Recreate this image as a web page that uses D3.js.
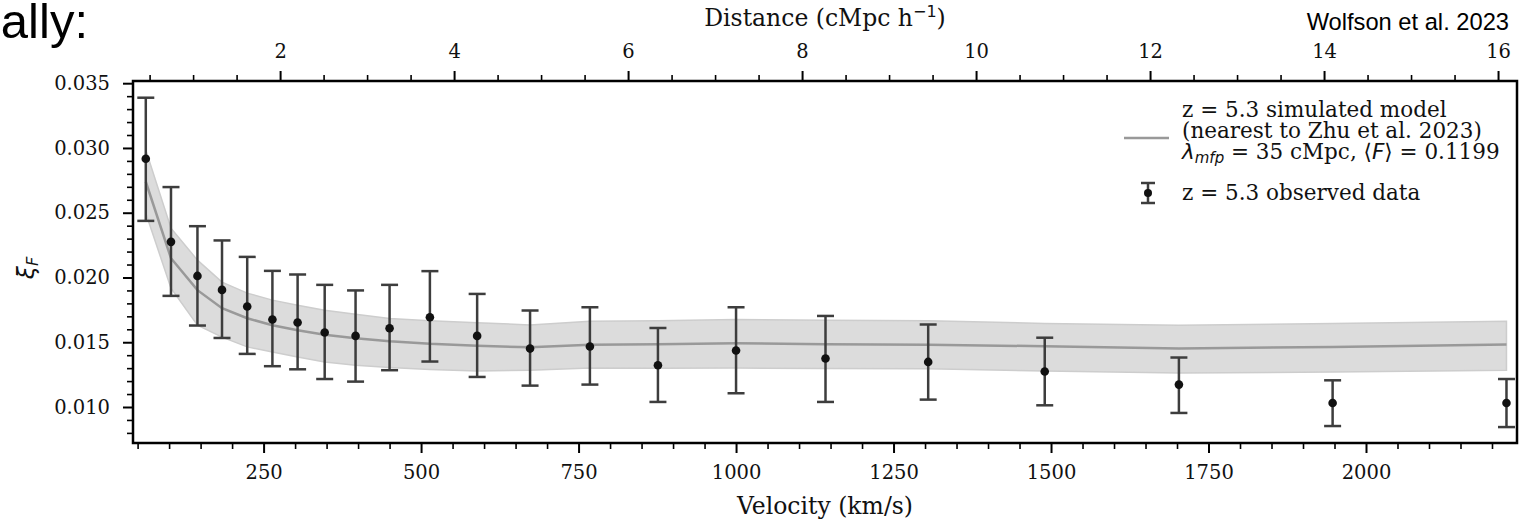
<!DOCTYPE html>
<html>
<head>
<meta charset="utf-8">
<script src="https://cdn.jsdelivr.net/npm/d3@7"></script>
<style>
  body { margin: 0; background: #fff; }
  svg { display: block; }
  .tick text { font-family: "DejaVu Serif", serif; }
</style>
</head>
<body>
<svg id="chart" width="1519" height="522"></svg>
<script>
// observed data (z = 5.3)
var velocity = [63, 103, 145, 184, 224, 264, 304, 347, 396, 450, 514, 589, 673, 768, 876, 1000, 1142, 1305, 1490, 1703, 1947, 2223];
var xiObs    = [0.02917, 0.02275, 0.02012, 0.01904, 0.01776, 0.01675, 0.01652, 0.01575, 0.01549, 0.01608, 0.01693, 0.01549,
                0.01451, 0.01467, 0.01322, 0.01436, 0.01374, 0.01348, 0.01274, 0.01173, 0.01031, 0.01031];
var errHi    = [0.03388, 0.02698, 0.02396, 0.02286, 0.02159, 0.02051, 0.02023, 0.01943, 0.01900, 0.01943, 0.02049, 0.01873,
                0.01745, 0.01770, 0.01610, 0.01770, 0.01703, 0.01637, 0.01535, 0.01382, 0.01206, 0.01216];
var errLo    = [0.02437, 0.01858, 0.01629, 0.01533, 0.01410, 0.01315, 0.01291, 0.01216, 0.01196, 0.01284, 0.01351, 0.01232,
                0.01165, 0.01173, 0.01039, 0.01106, 0.01039, 0.01057, 0.01013, 0.00954, 0.00853, 0.00845];

// simulated model (nearest to Zhu et al. 2023)
var xiModel  = [0.02739, 0.02149, 0.01902, 0.01763, 0.01685, 0.01631, 0.01593, 0.01558, 0.01531, 0.01508, 0.01488, 0.01473,
                0.01461, 0.01481, 0.01485, 0.01492, 0.01485, 0.01481, 0.01469, 0.01451, 0.01464, 0.01482];
var modelHi  = [0.02984, 0.02381, 0.02134, 0.01964, 0.01879, 0.01825, 0.01786, 0.01747, 0.01716, 0.01683, 0.01665, 0.01651,
                0.01634, 0.01662, 0.01666, 0.01675, 0.01670, 0.01665, 0.01645, 0.01631, 0.01645, 0.01662];
var modelLo  = [0.02497, 0.01917, 0.01631, 0.01539, 0.01464, 0.01425, 0.01386, 0.01348, 0.01322, 0.01304, 0.01289, 0.01278,
                0.01284, 0.01301, 0.01299, 0.01301, 0.01297, 0.01295, 0.01278, 0.01263, 0.01270, 0.01284];

var xTicks = [250, 500, 750, 1000, 1250, 1500, 1750, 2000];
var yTicks = [0.010, 0.015, 0.020, 0.025, 0.030, 0.035];
var distTicks = [2, 4, 6, 8, 10, 12, 14, 16];
var kmsPerMpc = 138.1;   // km/s per cMpc/h at z = 5.3

var legendModel = ["z = 5.3 simulated model", "(nearest to Zhu et al. 2023)"];
var legendObs = "z = 5.3 observed data";

var svg = d3.select("#chart");
var pLeft = 133, pRight = 1517, pTop = 81, pBottom = 443;

var x = d3.scaleLinear().domain([42.7, 2239.7]).range([pLeft, pRight]);
var y = d3.scaleLinear().domain([0.00722, 0.03517]).range([pBottom, pTop]);
var xd = d3.scaleLinear().domain([42.7 / kmsPerMpc, 2239.7 / kmsPerMpc]).range([pLeft, pRight]);

var data = velocity.map(function(v, i) {
  return {v: v, xi: xiObs[i], hi: errHi[i], lo: errLo[i], m: xiModel[i], mHi: modelHi[i], mLo: modelLo[i]};
});

// model band + line
svg.append("path")
  .datum(data)
  .attr("fill", "#dcdcdc")
  .attr("stroke", "#cdcdcd")
  .attr("stroke-width", 1.5)
  .attr("d", d3.area().x(function(d) { return x(d.v); }).y0(function(d) { return y(d.mLo); }).y1(function(d) { return y(d.mHi); }));

svg.append("path")
  .datum(data)
  .attr("fill", "none")
  .attr("stroke", "#999999")
  .attr("stroke-width", 2.5)
  .attr("d", d3.line().x(function(d) { return x(d.v); }).y(function(d) { return y(d.m); }));

// error bars
var eb = svg.append("g").attr("stroke", "#3d3d3d").attr("stroke-width", 2.5);
eb.selectAll(".bar").data(data).enter().append("line")
  .attr("x1", function(d) { return x(d.v); }).attr("x2", function(d) { return x(d.v); })
  .attr("y1", function(d) { return y(d.lo); }).attr("y2", function(d) { return y(d.hi); });
["hi", "lo"].forEach(function(k) {
  eb.selectAll(".cap" + k).data(data).enter().append("line")
    .attr("x1", function(d) { return x(d.v) - 8.5; }).attr("x2", function(d) { return x(d.v) + 8.5; })
    .attr("y1", function(d) { return y(d[k]); }).attr("y2", function(d) { return y(d[k]); });
});
svg.append("g").selectAll("circle").data(data).enter().append("circle")
  .attr("cx", function(d) { return x(d.v); })
  .attr("cy", function(d) { return y(d.xi); })
  .attr("r", 4.3)
  .attr("fill", "#111");

// axes
function styleAxis(g, major) {
  g.select(".domain").remove();
  g.selectAll(".tick line").attr("stroke", "#000").attr("stroke-width", major ? 2 : 1.6);
  g.selectAll(".tick text").attr("font-size", "19.5px").attr("fill", "#111");
}

var xMinor = d3.range(50, 2240, 50).filter(function(v) { return v % 250 != 0; });
var yMinor = d3.range(8, 36).filter(function(v) { return v % 5 != 0; }).map(function(v) { return v / 1000; });
var dMinor = d3.range(1, 33).filter(function(v) { return v % 4 != 0; }).map(function(v) { return v / 2; });

svg.append("g").attr("transform", "translate(0," + pBottom + ")")
  .call(d3.axisBottom(x).tickValues(xMinor).tickSize(6).tickFormat(""))
  .call(styleAxis, false);
svg.append("g").attr("transform", "translate(0," + pBottom + ")")
  .call(d3.axisBottom(x).tickValues(xTicks).tickSize(10).tickPadding(12).tickFormat(d3.format("d")))
  .call(styleAxis, true);

svg.append("g").attr("transform", "translate(" + pLeft + ",0)")
  .call(d3.axisLeft(y).tickValues(yMinor).tickSize(6).tickFormat(""))
  .call(styleAxis, false);
svg.append("g").attr("transform", "translate(" + pLeft + ",0)")
  .call(d3.axisLeft(y).tickValues(yTicks).tickSize(10).tickPadding(13).tickFormat(d3.format(".3f")))
  .call(styleAxis, true);

svg.append("g").attr("transform", "translate(0," + pTop + ")")
  .call(d3.axisTop(xd).tickValues(dMinor).tickSize(6).tickFormat(""))
  .call(styleAxis, false);
svg.append("g").attr("transform", "translate(0," + pTop + ")")
  .call(d3.axisTop(xd).tickValues(distTicks).tickSize(10).tickPadding(13).tickFormat(d3.format("d")))
  .call(styleAxis, true);

// frame
svg.append("rect")
  .attr("x", pLeft).attr("y", pTop)
  .attr("width", pRight - pLeft).attr("height", pBottom - pTop)
  .attr("fill", "none").attr("stroke", "#000").attr("stroke-width", 2.5);

// labels
svg.append("text")
  .attr("x", (pLeft + pRight) / 2).attr("y", 514)
  .attr("text-anchor", "middle")
  .attr("font-family", "DejaVu Serif").attr("font-size", "23.5px").attr("fill", "#111")
  .text("Velocity (km/s)");

var dl = svg.append("text")
  .attr("x", (pLeft + pRight) / 2).attr("y", 26)
  .attr("text-anchor", "middle")
  .attr("font-family", "DejaVu Serif").attr("font-size", "23.5px").attr("fill", "#111");
dl.append("tspan").text("Distance (cMpc h");
dl.append("tspan").attr("font-family", "DejaVu Sans").attr("font-size", "16px").attr("dy", -9).text("\u22121");
dl.append("tspan").attr("dy", 9).text(")");

var yl = svg.append("text")
  .attr("transform", "translate(34,268) rotate(-90)")
  .attr("text-anchor", "middle")
  .attr("font-family", "DejaVu Sans").attr("font-size", "23.5px").attr("fill", "#111");
yl.append("tspan").attr("font-style", "italic").text("\u03BE");
yl.append("tspan").attr("font-style", "italic").attr("font-size", "16px").attr("dy", 4).text("F");

svg.append("text")
  .attr("x", 1509).attr("y", 30)
  .attr("text-anchor", "end")
  .attr("font-family", "Liberation Sans").attr("font-size", "23.7px").attr("fill", "#000")
  .text("Wolfson et al. 2023");

svg.append("text")
  .attr("x", 88).attr("y", 38)
  .attr("text-anchor", "end")
  .attr("font-family", "Liberation Sans").attr("font-size", "49px").attr("fill", "#000")
  .text("ally:");

// legend
var lfs = "21.5px";
var lg = svg.append("g");
lg.append("line")
  .attr("x1", 1124).attr("x2", 1169).attr("y1", 138).attr("y2", 138)
  .attr("stroke", "#999999").attr("stroke-width", 2.5);
legendModel.forEach(function(t, i) {
  lg.append("text")
    .attr("x", 1182).attr("y", 117 + i * 21)
    .attr("font-family", "DejaVu Serif").attr("font-size", lfs).attr("fill", "#111")
    .text(t);
});
var lt = lg.append("text")
  .attr("x", 1182).attr("y", 159)
  .attr("font-family", "DejaVu Serif").attr("font-size", lfs).attr("fill", "#111");
lt.append("tspan").attr("font-family", "DejaVu Sans").attr("font-style", "italic").text("\u03BB");
lt.append("tspan").attr("font-family", "DejaVu Sans").attr("font-style", "italic").attr("font-size", "15px").attr("dy", 4).text("mfp");
lt.append("tspan").attr("dy", -4).text(" = 35 cMpc, ");
lt.append("tspan").attr("font-family", "DejaVu Sans").text("\u27E8");
lt.append("tspan").attr("font-family", "DejaVu Sans").attr("font-style", "italic").text("F");
lt.append("tspan").attr("font-family", "DejaVu Sans").text("\u27E9");
lt.append("tspan").text(" = 0.1199");

var le = lg.append("g").attr("stroke", "#3d3d3d").attr("stroke-width", 2.5);
le.append("line").attr("x1", 1148).attr("x2", 1148).attr("y1", 183).attr("y2", 203);
le.append("line").attr("x1", 1141).attr("x2", 1155).attr("y1", 183).attr("y2", 183);
le.append("line").attr("x1", 1141).attr("x2", 1155).attr("y1", 203).attr("y2", 203);
lg.append("circle").attr("cx", 1148).attr("cy", 193).attr("r", 4).attr("fill", "#111");
lg.append("text")
  .attr("x", 1182).attr("y", 200)
  .attr("font-family", "DejaVu Serif").attr("font-size", lfs).attr("fill", "#111")
  .text(legendObs);
</script>
</body>
</html>
